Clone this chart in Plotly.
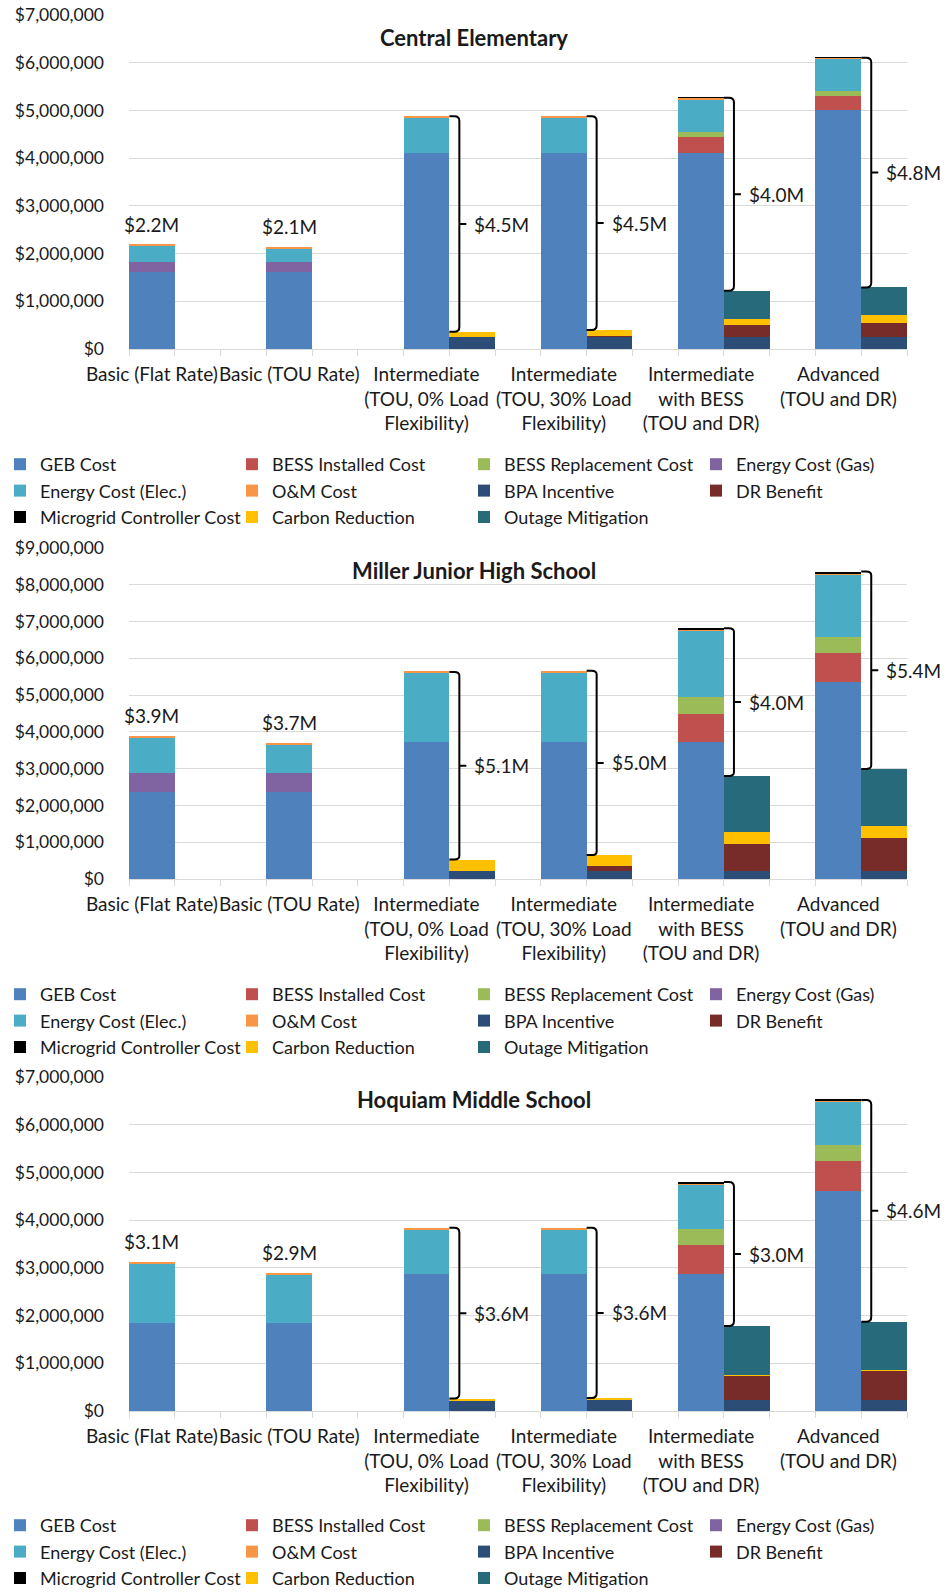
import plotly.graph_objects as go

# ---------------- DATA ----------------
categories = [
    "Basic (Flat Rate)",
    "Basic (TOU Rate)",
    "Intermediate<br>(TOU, 0% Load<br>Flexibility)",
    "Intermediate<br>(TOU, 30% Load<br>Flexibility)",
    "Intermediate<br>with BESS<br>(TOU and DR)",
    "Advanced<br>(TOU and DR)",
]
schools = ["Central Elementary", "Miller Junior High School", "Hoquiam Middle School"]
y_max = [7_000_000, 9_000_000, 7_000_000]

cost_series = ["GEB Cost", "BESS Installed Cost", "BESS Replacement Cost", "Energy Cost (Gas)",
               "Energy Cost (Elec.)", "O&M Cost", "Microgrid Controller Cost"]
benefit_series = ["BPA Incentive", "DR Benefit", "Carbon Reduction", "Outage Mitigation"]
legend_order = ["GEB Cost", "BESS Installed Cost", "BESS Replacement Cost", "Energy Cost (Gas)",
                "Energy Cost (Elec.)", "O&M Cost", "BPA Incentive", "DR Benefit",
                "Microgrid Controller Cost", "Carbon Reduction", "Outage Mitigation"]

# Central Elementary ($M)
ce_geb = [1.62, 1.62, 4.10, 4.10, 4.10, 5.00]
ce_bess_inst = [0, 0, 0, 0, 0.34, 0.30]
ce_bess_repl = [0, 0, 0, 0, 0.10, 0.11]
ce_gas = [0.20, 0.20, 0, 0, 0, 0]
ce_elec = [0.35, 0.29, 0.76, 0.76, 0.69, 0.67]
ce_om = [0.02, 0.02, 0.02, 0.02, 0.03, 0.02]
ce_mgc = [0, 0, 0, 0, 0.01, 0.01]
ce_bpa = [0, 0, 0.24, 0.25, 0.24, 0.24]
ce_dr = [0, 0, 0, 0.02, 0.26, 0.31]
ce_carbon = [0, 0, 0.12, 0.13, 0.12, 0.16]
ce_outage = [0, 0, 0, 0, 0.60, 0.58]
ce_labels = ["$2.2M", "$2.1M", "$4.5M", "$4.5M", "$4.0M", "$4.8M"]

# Miller Junior High School ($M)
mj_geb = [2.37, 2.37, 3.73, 3.73, 3.73, 5.35]
mj_bess_inst = [0, 0, 0, 0, 0.77, 0.80]
mj_bess_repl = [0, 0, 0, 0, 0.44, 0.42]
mj_gas = [0.52, 0.52, 0, 0, 0, 0]
mj_elec = [0.97, 0.77, 1.88, 1.89, 1.81, 1.71]
mj_om = [0.04, 0.03, 0.02, 0.04, 0.03, 0.04]
mj_mgc = [0, 0, 0, 0, 0.04, 0.04]
mj_bpa = [0, 0, 0.22, 0.22, 0.22, 0.22]
mj_dr = [0, 0, 0, 0.13, 0.74, 0.90]
mj_carbon = [0, 0, 0.31, 0.30, 0.32, 0.31]
mj_outage = [0, 0, 0, 0, 1.52, 1.56]
mj_labels = ["$3.9M", "$3.7M", "$5.1M", "$5.0M", "$4.0M", "$5.4M"]

# Hoquiam Middle School ($M)
hm_geb = [1.85, 1.85, 2.87, 2.87, 2.87, 4.61]
hm_bess_inst = [0, 0, 0, 0, 0.61, 0.64]
hm_bess_repl = [0, 0, 0, 0, 0.33, 0.33]
hm_gas = [0, 0, 0, 0, 0, 0]
hm_elec = [1.25, 1.02, 0.94, 0.94, 0.93, 0.90]
hm_om = [0.02, 0.03, 0.03, 0.03, 0.03, 0.02]
hm_mgc = [0, 0, 0, 0, 0.03, 0.02]
hm_bpa = [0, 0, 0.23, 0.24, 0.23, 0.23]
hm_dr = [0, 0, 0, 0.01, 0.51, 0.61]
hm_carbon = [0, 0, 0.03, 0.02, 0.01, 0.01]
hm_outage = [0, 0, 0, 0, 1.03, 1.02]
hm_labels = ["$3.1M", "$2.9M", "$3.6M", "$3.6M", "$3.0M", "$4.6M"]

# ---------------- STYLE ----------------
colors = {
    "GEB Cost": "#4F81BD",
    "BESS Installed Cost": "#C0504D",
    "BESS Replacement Cost": "#9BBB59",
    "Energy Cost (Gas)": "#8064A2",
    "Energy Cost (Elec.)": "#4BACC6",
    "O&M Cost": "#F79646",
    "BPA Incentive": "#2C4D75",
    "DR Benefit": "#772C2A",
    "Microgrid Controller Cost": "#000000",
    "Carbon Reduction": "#FFC000",
    "Outage Mitigation": "#276A7C",
}

panels = [
    {"GEB Cost": ce_geb, "BESS Installed Cost": ce_bess_inst, "BESS Replacement Cost": ce_bess_repl,
     "Energy Cost (Gas)": ce_gas, "Energy Cost (Elec.)": ce_elec, "O&M Cost": ce_om,
     "Microgrid Controller Cost": ce_mgc, "BPA Incentive": ce_bpa, "DR Benefit": ce_dr,
     "Carbon Reduction": ce_carbon, "Outage Mitigation": ce_outage, "labels": ce_labels},
    {"GEB Cost": mj_geb, "BESS Installed Cost": mj_bess_inst, "BESS Replacement Cost": mj_bess_repl,
     "Energy Cost (Gas)": mj_gas, "Energy Cost (Elec.)": mj_elec, "O&M Cost": mj_om,
     "Microgrid Controller Cost": mj_mgc, "BPA Incentive": mj_bpa, "DR Benefit": mj_dr,
     "Carbon Reduction": mj_carbon, "Outage Mitigation": mj_outage, "labels": mj_labels},
    {"GEB Cost": hm_geb, "BESS Installed Cost": hm_bess_inst, "BESS Replacement Cost": hm_bess_repl,
     "Energy Cost (Gas)": hm_gas, "Energy Cost (Elec.)": hm_elec, "O&M Cost": hm_om,
     "Microgrid Controller Cost": hm_mgc, "BPA Incentive": hm_bpa, "DR Benefit": hm_dr,
     "Carbon Reduction": hm_carbon, "Outage Mitigation": hm_outage, "labels": hm_labels},
]

W, H = 948, 1592
FONT = "Lato"
TXT = "#1a1a1a"
GRID = "#D9D9D9"

# pixel layout of each panel (top gridline y, zero line y, legend top y)
panel_px = [(15.2, 349.0, 446.0), (548.0, 879.0, 976.0), (1077.0, 1411.0, 1507.0)]
x_left_px, x_right_px = 129.0, 907.0

cost_x = [3 * i for i in range(len(categories))]
ben_x = [3 * i + 1 for i in range(len(categories))]

fig = go.Figure()
layout_upd = {}
annotations = []
shapes = []

for p, data in enumerate(panels):
    sfx = "" if p == 0 else str(p + 1)
    xa, ya = "x" + sfx, "y" + sfx
    lg = "legend" + sfx
    for name in legend_order:
        is_cost = name in cost_series
        vals = [v * 1e6 for v in data[name]]
        fig.add_trace(go.Bar(
            x=cost_x if is_cost else ben_x, y=vals, name=name,
            marker=dict(color=colors[name], line=dict(width=0)),
            width=1, xaxis=xa, yaxis=ya, legend=lg, showlegend=True,
            hoverinfo="name+y",
        ))
    top_px, zero_px, leg_px = panel_px[p]
    layout_upd["xaxis" + sfx] = dict(
        domain=[x_left_px / W, x_right_px / W], anchor=ya, range=[-0.5, 16.5],
        tickmode="array", tickvals=cost_x, ticktext=categories, ticks="",
        tickfont=dict(family=FONT, size=19, color=TXT), tickangle=0, ticklabelstandoff=8,
        showline=True, linecolor=GRID, linewidth=1, showgrid=False, zeroline=False,
        minor=dict(ticks="outside", tick0=0.5, dtick=1, ticklen=6, tickcolor=GRID, tickwidth=1, showgrid=False),
        automargin=False, fixedrange=True,
    )
    layout_upd["yaxis" + sfx] = dict(
        domain=[1 - zero_px / H, 1 - top_px / H], anchor=xa, range=[0, y_max[p]],
        dtick=1_000_000, tickformat="$,.0f", tickfont=dict(family=FONT, size=17.5, color=TXT),
        ticklabelstandoff=24,
        showgrid=True, gridcolor=GRID, gridwidth=1, zeroline=False, showline=False, ticks="",
        automargin=False, fixedrange=True,
    )
    layout_upd[lg] = dict(
        orientation="h", x=0, xanchor="left", y=1 - leg_px / H, yanchor="top",
        entrywidth=187, entrywidthmode="pixels", traceorder="normal",
        font=dict(family=FONT, size=18, color=TXT), bgcolor="rgba(0,0,0,0)",
        itemclick=False, itemdoubleclick=False,
    )
    # title
    annotations.append(dict(
        text="<b>%s</b>" % schools[p], xref="paper", yref="paper", x=0.5,
        y=1 - (top_px + 22) / H, xanchor="center", yanchor="middle", showarrow=False,
        font=dict(family=FONT, size=22, color=TXT)))
    # totals
    cost_tot = [sum(data[s][i] for s in cost_series) * 1e6 for i in range(len(categories))]
    ben_tot = [sum(data[s][i] for s in benefit_series) * 1e6 for i in range(len(categories))]
    ry = 0.1e6
    for i in range(len(categories)):
        if ben_tot[i] == 0:
            annotations.append(dict(
                text=data["labels"][i], xref=xa, yref=ya, x=cost_x[i], y=cost_tot[i],
                xanchor="center", yanchor="bottom", yshift=7, showarrow=False,
                font=dict(family=FONT, size=19, color=TXT)))
        else:
            top, bot = cost_tot[i], ben_tot[i]
            mid = (top + bot) / 2
            path = (f"M 0,{top} L 5,{top} Q 10,{top} 10,{top - ry} L 10,{bot + ry} "
                    f"Q 10,{bot} 5,{bot} L 0,{bot} M 10,{mid} L 17,{mid}")
            shapes.append(dict(
                type="path", xref=xa, yref=ya, xsizemode="pixel", xanchor=cost_x[i] + 0.5,
                path=path, line=dict(color="black", width=2)))
            annotations.append(dict(
                text=data["labels"][i], xref=xa, yref=ya, x=cost_x[i] + 0.5, y=mid,
                xanchor="left", yanchor="middle", xshift=23, showarrow=False,
                font=dict(family=FONT, size=19, color=TXT)))

fig.update_layout(
    width=W, height=H, margin=dict(l=0, r=0, t=0, b=0, autoexpand=False),
    barmode="stack", bargap=0, plot_bgcolor="white", paper_bgcolor="white",
    font=dict(family=FONT, size=17, color=TXT),
    annotations=annotations, shapes=shapes, **layout_upd,
)

fig.write_html("out.html", config={"displayModeBar": False},
               post_script="document.body.style.margin='0';document.body.style.overflow='hidden';")
